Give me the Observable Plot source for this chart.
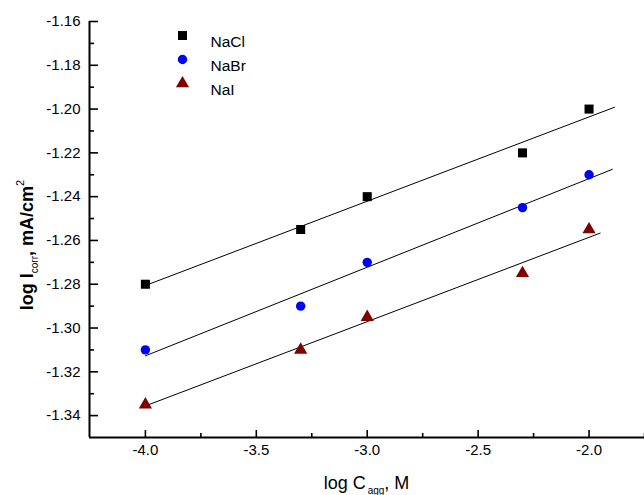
<!DOCTYPE html>
<html>
<head>
<meta charset="utf-8">
<script src="https://cdn.jsdelivr.net/npm/d3@7"></script>
<script src="https://cdn.jsdelivr.net/npm/@observablehq/plot@0.6"></script>
<style>
  html, body { margin: 0; padding: 0; background: #fff; }
  svg { display: block; }
</style>
</head>
<body>
<div id="chart"></div>
<script>
// ---- data ----
const series = ["NaCl", "NaBr", "NaI"];
const xValues = [-4.0, -3.3, -3.0, -2.3, -2.0];
const naclValues = [-1.280, -1.255, -1.240, -1.220, -1.200];
const nabrValues = [-1.310, -1.290, -1.270, -1.245, -1.230];
const naiValues  = [-1.335, -1.310, -1.295, -1.275, -1.255];
const fitEnd = [-1.885, -1.895, -1.95];
const xMajor = [-4.0, -3.5, -3.0, -2.5, -2.0];
const xMinor = [-3.75, -3.25, -2.75, -2.25, -1.75];
const yMajor = [-1.34, -1.32, -1.30, -1.28, -1.26, -1.24, -1.22, -1.20, -1.18, -1.16];
const yMinor = [-1.33, -1.31, -1.29, -1.27, -1.25, -1.23, -1.21, -1.19, -1.17];
const colors = ["#000000", "#0000ff", "#800000"];
const symbols = ["square", "circle", "triangle"];
const radii = [5.1, 4.7, 4.9];

const allValues = [naclValues, nabrValues, naiValues];

const W = 644, H = 495;
const mL = 89, mR = 0, mT = 21, mB = 58;
const plotW = W - mL - mR, plotH = H - mT - mB;
const xDomain = [-4.252, -1.75];
const yDomain = [-1.35, -1.16];

// least-squares fit lines
function fit(xs, ys) {
  const mx = d3.mean(xs), my = d3.mean(ys);
  let sxy = 0, sxx = 0;
  xs.forEach((x, i) => { sxy += (x - mx) * (ys[i] - my); sxx += (x - mx) * (x - mx); });
  const b = sxy / sxx;
  return x => my + b * (x - mx);
}
const fitData = [];
series.forEach((s, i) => {
  const f = fit(xValues, allValues[i]);
  const x0 = d3.min(xValues);
  fitData.push({series: s, x: x0, y: f(x0)});
  fitData.push({series: s, x: fitEnd[i], y: f(fitEnd[i])});
});

const font = "'Liberation Sans', Arial, sans-serif";

const marks = [
  Plot.line(fitData, {x: "x", y: "y", z: "series", stroke: "#000", strokeWidth: 1}),
  Plot.axisX(xMajor, {tickSize: 0, tickPadding: 7, tickFormat: d => d.toFixed(1), fontSize: 15, label: null}),
  Plot.axisY(yMajor, {tickSize: 0, tickPadding: 9, tickFormat: d => d.toFixed(2), fontSize: 15, label: null}),
  Plot.tickX(xMajor, {x: d => d, insetTop: plotH - 7, stroke: "#000", strokeWidth: 1.6}),
  Plot.tickX(xMinor, {x: d => d, insetTop: plotH - 4, stroke: "#000", strokeWidth: 1.6}),
  Plot.tickY(yMajor, {y: d => d, insetRight: plotW - 9, stroke: "#000", strokeWidth: 1.6}),
  Plot.tickY(yMinor, {y: d => d, insetRight: plotW - 5, stroke: "#000", strokeWidth: 1.6}),
  Plot.ruleX([xDomain[0]], {stroke: "#000", strokeWidth: 2}),
  Plot.ruleY([yDomain[0]], {stroke: "#000", strokeWidth: 2})
];

series.forEach((s, i) => {
  const pts = xValues.map((x, j) => ({x, y: allValues[i][j]}));
  marks.push(Plot.dot(pts, {x: "x", y: "y", symbol: symbols[i], fill: colors[i], r: radii[i], stroke: "none"}));
  // legend
  marks.push(Plot.dot([s], {frameAnchor: "top-left", dx: 93, dy: 14 + 24 * i, symbol: symbols[i], fill: colors[i], r: radii[i], stroke: "none"}));
  marks.push(Plot.text([s], {text: d => d, frameAnchor: "top-left", dx: 121, dy: 14 + 24 * i, textAnchor: "start", fontSize: 15.5, fill: "#000"}));
});

const chart = Plot.plot({
  width: W, height: H,
  marginLeft: mL, marginRight: mR, marginTop: mT, marginBottom: mB,
  style: {fontFamily: font, fontSize: "15px", color: "#000", background: "#fff", overflow: "visible"},
  x: {domain: xDomain},
  y: {domain: yDomain},
  marks
});
document.getElementById("chart").appendChild(chart);

// axis titles with sub/superscripts
const svg = d3.select(chart);
const yt = svg.append("text")
  .attr("transform", `translate(33, 245) rotate(-90)`)
  .attr("text-anchor", "middle")
  .attr("font-family", font).attr("font-size", 18).attr("font-weight", "bold").attr("fill", "#000");
yt.append("tspan").text("log I");
yt.append("tspan").attr("font-size", 10).attr("font-weight", "normal").attr("dy", 5).text("corr");
yt.append("tspan").attr("dy", -5).text(", mA/cm");
yt.append("tspan").attr("font-size", 11).attr("font-weight", "normal").attr("dy", -9).text("2");

const xt = svg.append("text")
  .attr("x", mL + plotW / 2).attr("y", 489)
  .attr("text-anchor", "middle")
  .attr("font-family", font).attr("font-size", 18).attr("fill", "#000");
xt.append("tspan").text("log C");
xt.append("tspan").attr("font-size", 10).attr("dy", 5).attr("dx", 2).text("agg");
xt.append("tspan").attr("dy", -5).text(", M");
</script>
</body>
</html>
